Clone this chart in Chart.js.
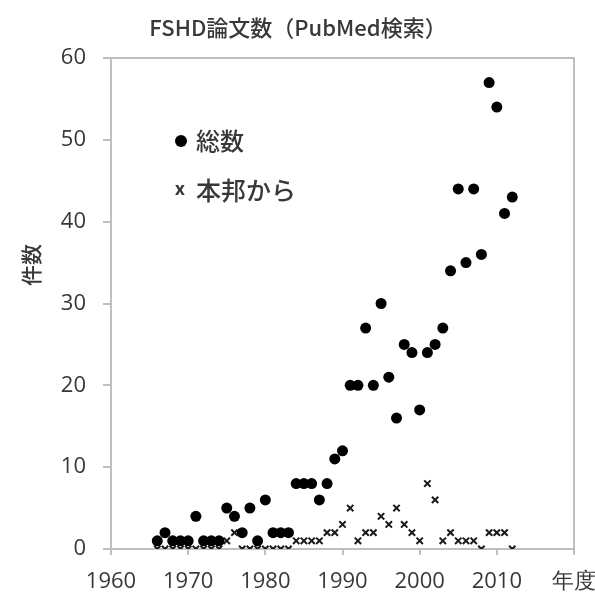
<!DOCTYPE html>
<html>
<head>
<meta charset="utf-8">
<script src="https://cdn.jsdelivr.net/npm/chart.js@4.4.1/dist/chart.umd.min.js"></script>
<style>
  html, body { margin: 0; padding: 0; background: #fff; }
  #wrap { width: 595px; height: 599px; }
</style>
</head>
<body>
<div id="wrap"><canvas id="chart" width="595" height="599"></canvas></div>
<script>
// FSHD papers per year (PubMed)
const years = [
  1966, 1967, 1968, 1969, 1970, 1971, 1972, 1973, 1974, 1975,
  1976, 1977, 1978, 1979, 1980, 1981, 1982, 1983, 1984, 1985,
  1986, 1987, 1988, 1989, 1990, 1991, 1992, 1993, 1994, 1995,
  1996, 1997, 1998, 1999, 2000, 2001, 2002, 2003, 2004, 2005,
  2006, 2007, 2008, 2009, 2010, 2011, 2012
];
const totalCounts = [
  1, 2, 1, 1, 1, 4, 1, 1, 1, 5,
  4, 2, 5, 1, 6, 2, 2, 2, 8, 8,
  8, 6, 8, 11, 12, 20, 20, 27, 20, 30,
  21, 16, 25, 24, 17, 24, 25, 27, 34, 44,
  35, 44, 36, 57, 54, 41, 43
];
const japanCounts = [
  0, 0, 0, 0, 0, 0, 0, 0, 0, 1,
  2, 0, 0, 0, 0, 0, 0, 0, 1, 1,
  1, 1, 2, 2, 3, 5, 1, 2, 2, 4,
  3, 5, 3, 2, 1, 8, 6, 1, 2, 1,
  1, 1, 0, 2, 2, 2, 0
];
const seriesNames = ["総数", "本邦から"];
const chartTitle = "FSHD論文数（PubMed検索）";
const yTitle = "件数";
const xTitle = "年度";
const xTicks = [1960, 1970, 1980, 1990, 2000, 2010, 2020];
const yTicks = [0, 10, 20, 30, 40, 50, 60];

const textColor = "#383838";
const axisColor = "#bfbfbf";
const jpFont = "'Noto Sans CJK JP', 'Open Sans', sans-serif";

// box around plot, title, rotated y title and the inset legend
const decorations = {
    id: "decorations",
    beforeDatasetsDraw(chart) {
        const { ctx, chartArea: a } = chart;
        ctx.save();
        ctx.strokeStyle = axisColor;
        ctx.lineWidth = 2;
        ctx.beginPath();
        ctx.moveTo(a.left, a.top);
        ctx.lineTo(a.right, a.top);
        ctx.lineTo(a.right, a.bottom);
        ctx.stroke();
        ctx.restore();
    },
    afterDraw(chart) {
        const { ctx } = chart;
        ctx.save();
        ctx.fillStyle = textColor;
        ctx.textBaseline = "middle";

        ctx.textAlign = "center";
        ctx.font = "500 22px " + jpFont;
        ctx.fillText(chartTitle, 298, 28);

        ctx.save();
        ctx.translate(31, 265);
        ctx.rotate(-Math.PI / 2);
        ctx.font = "500 21px " + jpFont;
        ctx.fillText(yTitle, 0, 0);
        ctx.restore();

        // legend
        ctx.fillStyle = "#000";
        ctx.beginPath();
        ctx.arc(181, 141, 6, 0, Math.PI * 2);
        ctx.fill();
        ctx.fillStyle = textColor;
        ctx.font = "bold 17px 'Open Sans', sans-serif";
        ctx.fillText("x", 180, 190);
        ctx.textAlign = "left";
        ctx.font = "500 24px " + jpFont;
        ctx.fillText(seriesNames[0], 196, 141);
        ctx.font = "500 25px " + jpFont;
        ctx.fillText(seriesNames[1], 196, 190);
        ctx.restore();
    }
};

new Chart(document.getElementById("chart"), {
    type: "scatter",
    plugins: [decorations],
    data: {
        datasets: [
            {
                label: seriesNames[0],
                data: years.map((yr, i) => ({ x: yr, y: totalCounts[i] })),
                pointStyle: "circle",
                pointRadius: 5.5,
                backgroundColor: "#000",
                borderColor: "#000",
                borderWidth: 0
            },
            {
                label: seriesNames[1],
                data: years.map((yr, i) => ({ x: yr, y: japanCounts[i] })),
                pointStyle: "crossRot",
                pointRadius: 4.5,
                borderColor: "#1a1a1a",
                borderWidth: 2
            }
        ]
    },
    options: {
        responsive: false,
        animation: false,
        events: [],
        layout: { padding: { top: 58, right: 21, left: 0, bottom: 0 } },
        plugins: {
            legend: { display: false },
            title: { display: false },
            tooltip: { enabled: false }
        },
        scales: {
            x: {
                type: "linear",
                min: 1960,
                max: 2020,
                afterBuildTicks: s => { s.ticks = xTicks.map(v => ({ value: v })); },
                afterFit: s => { s.height = 50; s.paddingLeft = 0; s.paddingRight = 0; },
                grid: {
                    drawOnChartArea: false,
                    drawTicks: true,
                    tickLength: 6,
                    color: axisColor,
                    lineWidth: 2
                },
                border: { color: axisColor, width: 2 },
                ticks: {
                    padding: 14,
                    maxRotation: 0,
                    color: textColor,
                    font: { family: "'Open Sans', sans-serif", size: 22 },
                    callback: v => (v === 2020 ? xTitle : String(v))
                }
            },
            y: {
                min: 0,
                max: 60,
                afterBuildTicks: s => { s.ticks = yTicks.map(v => ({ value: v })); },
                afterFit: s => { s.width = 111; },
                grid: {
                    drawOnChartArea: false,
                    drawTicks: true,
                    tickLength: 8,
                    color: axisColor,
                    lineWidth: 2
                },
                border: { color: axisColor, width: 2 },
                ticks: {
                    padding: 17,
                    color: textColor,
                    font: { family: "'Open Sans', sans-serif", size: 22 }
                }
            }
        }
    }
});
</script>
</body>
</html>
